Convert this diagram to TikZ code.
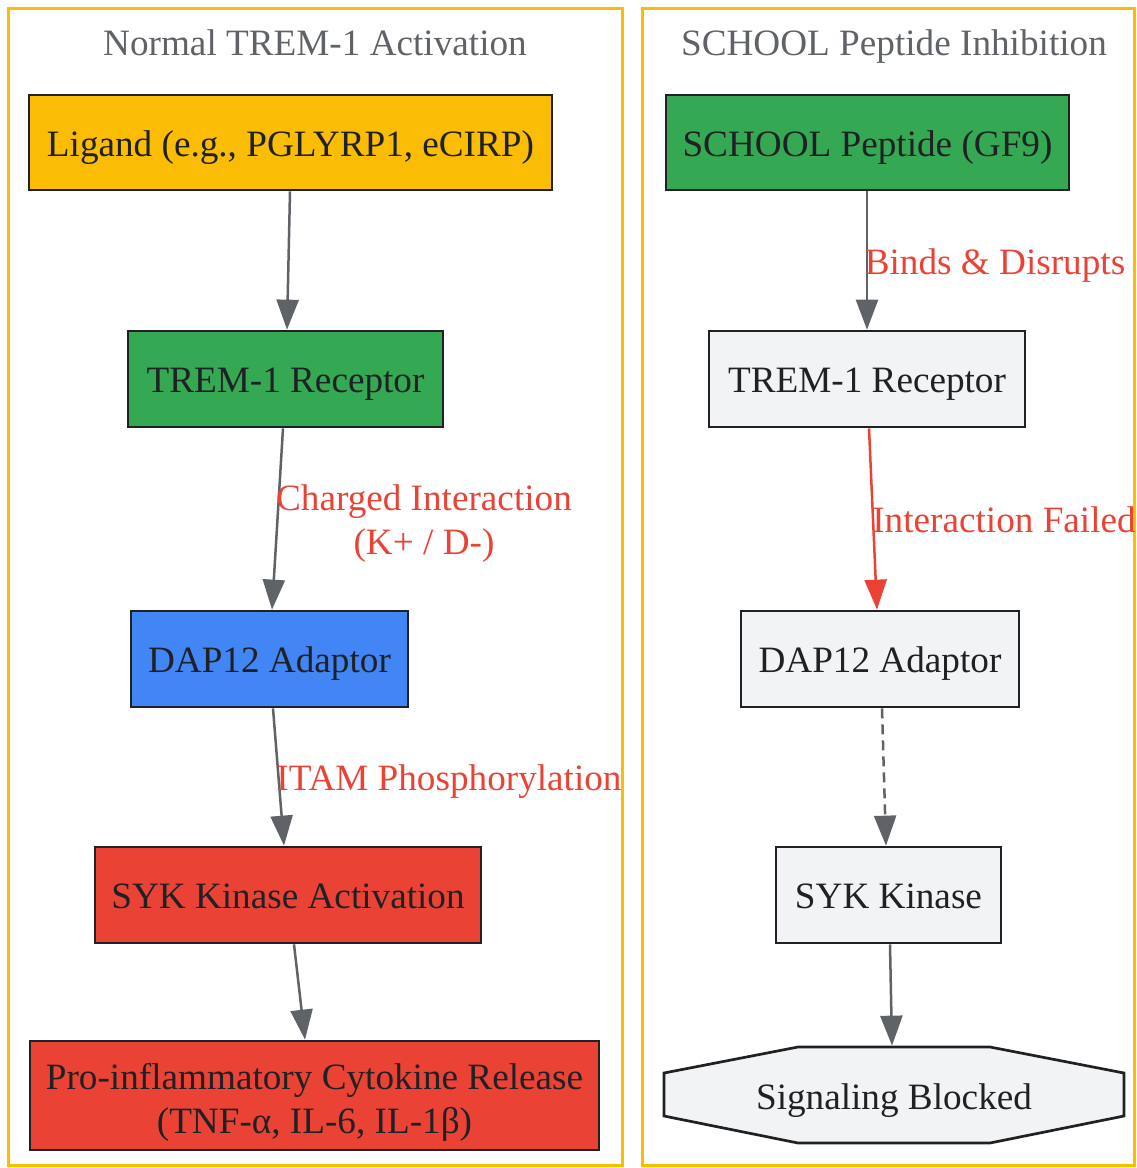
\documentclass[tikz,border=0pt]{standalone}
\usepackage{fontspec}
\setmainfont{Liberation Serif}
\usetikzlibrary{arrows.meta}
\definecolor{cyel}{HTML}{FBBC04}
\definecolor{cgreen}{HTML}{34A853}
\definecolor{cblue}{HTML}{4285F4}
\definecolor{cred}{HTML}{EA4335}
\definecolor{cgray}{HTML}{F1F3F4}
\definecolor{cdark}{HTML}{202124}
\definecolor{cedge}{HTML}{5F6368}
\begin{document}
\begin{tikzpicture}[x=1pt,y=-1pt,
  boxbase/.style={draw=cdark, line width=2.7pt, inner sep=0pt, text=cdark, font=\fontsize{37.2}{44}\selectfont},
  box/.style={boxbase, text height=27pt, text depth=0pt},
  edge/.style={draw=cedge, line width=2.5pt, -{Triangle[length=30pt,width=22pt]}},
  lbl/.style={text=cred, font=\fontsize{37.2}{44}\selectfont, inner sep=0pt, align=center},
  cluster/.style={draw=cyel, line width=3pt},
  title/.style={text=cedge, font=\fontsize{37.2}{44}\selectfont, inner sep=0pt, anchor=base}]
\useasboundingbox (0,0) rectangle (1136,1168);
% clusters
\draw[cluster] (8,8) rectangle (622,1165);
\draw[cluster] (642,8) rectangle (1134.5,1165);
\node[title] (t1) at (315,55) {Normal TREM-1 Activation};
\node[title] (t2) at (894,55) {SCHOOL Peptide Inhibition};
% left
\node[box, fill=cyel, minimum width=523pt, minimum height=95pt] (lig) at (290.5,142.5) {Ligand (e.g., PGLYRP1, eCIRP)};
\node[box, fill=cgreen, minimum width=315pt, minimum height=96pt] (trem1) at (285.5,379) {TREM-1 Receptor};
\node[box, fill=cblue, minimum width=277pt, minimum height=96pt] (dap1) at (269.5,659) {DAP12 Adaptor};
\node[box, fill=cred, minimum width=386pt, minimum height=96pt] (syk1) at (288,895) {SYK Kinase Activation};
\node[boxbase, fill=cred, minimum width=569pt, minimum height=109pt, align=center, text height=75pt, text depth=0pt] (pro) at (314.5,1095.5) {Pro-inflammatory Cytokine Release\\(TNF-α, IL-6, IL-1β)};
% right
\node[box, fill=cgreen, minimum width=403pt, minimum height=95pt] (school) at (867.5,142.5) {SCHOOL Peptide (GF9)};
\node[box, fill=cgray, minimum width=316pt, minimum height=96pt] (trem2) at (867,379) {TREM-1 Receptor};
\node[box, fill=cgray, minimum width=278pt, minimum height=96pt] (dap2) at (880,659) {DAP12 Adaptor};
\node[box, fill=cgray, minimum width=225pt, minimum height=96pt] (syk2) at (888.5,895) {SYK Kinase};
\draw[draw=cdark, fill=cgray, line width=2.7pt] (798,1047) -- (990,1047) -- (1124,1073) -- (1124,1116) -- (990,1143) -- (798,1143) -- (664,1116) -- (664,1073) -- cycle;
\node[box, draw=none, minimum width=460pt, minimum height=98pt] (blk) at (894,1096) {Signaling Blocked};
% edges left
\draw[edge] ([xshift=-0.5pt]lig.south) -- ([xshift=1.5pt]trem1.north);
\draw[edge] ([xshift=-2.5pt]trem1.south) -- ([xshift=2.5pt]dap1.north);
\draw[edge] ([xshift=3.5pt]dap1.south) -- ([xshift=-4pt]syk1.north);
\draw[edge] ([xshift=6pt]syk1.south) -- ([xshift=-9.5pt]pro.north);
% edges right
\draw[edge] ([xshift=-0.5pt]school.south) -- (trem2.north);
\draw[edge, draw=cred, -{Triangle[length=30pt,width=22pt,fill=cred]}] ([xshift=2pt]trem2.south) -- ([xshift=-3pt]dap2.north);
\draw[edge, dash pattern=on 10pt off 6pt] ([xshift=2pt]dap2.south) -- ([xshift=-2.5pt]syk2.north);
\draw[edge] ([xshift=1.5pt]syk2.south) -- ([xshift=-2pt]blk.north);
% labels
\node[lbl] (l1) at (424,524) {Charged Interaction\\(K+ / D-)};
\node[lbl, anchor=base] (l2) at (449,790) {ITAM Phosphorylation};
\node[lbl, anchor=base] (l3) at (995,274) {Binds \& Disrupts};
\node[lbl, anchor=base] (l4) at (1004,532) {Interaction Failed};
\end{tikzpicture}
\end{document}
